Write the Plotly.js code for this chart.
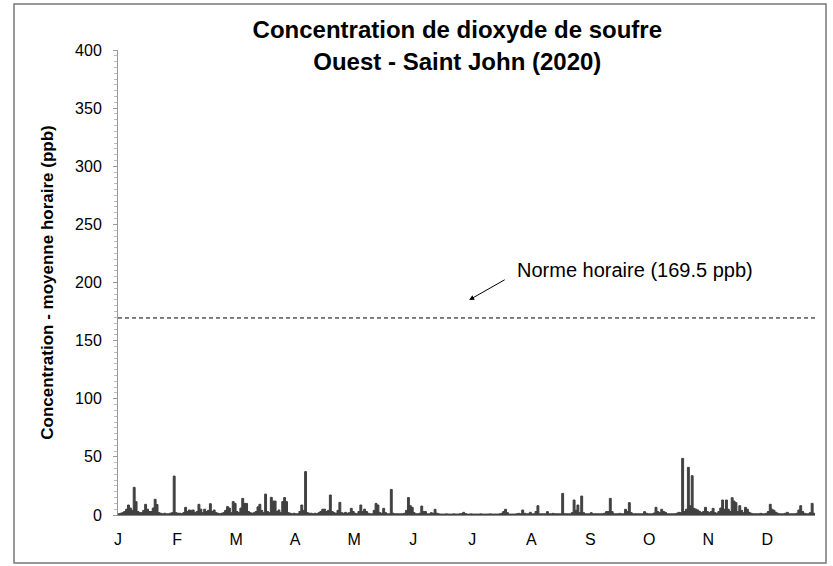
<!DOCTYPE html>
<html>
<head>
<meta charset="utf-8">
<script src="https://cdn.plot.ly/plotly-3.0.1.min.js"></script>
<style>
  html, body { margin: 0; padding: 0; background: #fff; }
  #chart { width: 833px; height: 566px; }
</style>
</head>
<body>
<div id="chart"></div>
<script>
// Daily maximum of hourly SO2 concentration (ppb), 2020 (366 days)
const janValues = [1,1.5,2,3,5,8.6,6,4,23.8,11.5,3,2,2,4,9.2,5,3,3,6,13.5,9,2,1.5,1,1.5,1,1,1.5,2,33.5,2];
const febValues = [1.5,1.5,1,2,6.6,3,4.3,4,4.3,2,3,9.2,5,2,5,3,4,9.7,3,4.3,2,1.5,1,1.5,2,4,7.2,6,2];
const marValues = [11.5,10,3,2,6,14.3,10,10,3,2,1.5,2,3,7,9.2,4,2,18,3,2,15.2,12,12,3,4.3,2,11.5,15,11.5,2,1.5];
const aprValues = [1,1.5,1,1,3,8.6,4,37.3,2,1.5,1.5,1,1.5,1,2,3,5,5,3,4,17.2,3,2,1.5,4,10.9,2,1.5,2.3,1.5];
const mayValues = [2,5.7,3,1.5,1,3,8.6,3,5,3,1.5,1,1,4,10,8.6,2,1.5,5.7,2,1,1,22,1.5,1,1,1,1,1,1.5,4];
const junValues = [15,8,6.6,2,1,1,1.5,7.7,3,2.9,1,1,2,1.5,4.9,1.5,1,0.8,0.8,0.8,1,0.8,0.8,0.8,1,0.8,0.8,1,1.2,2.3];
const julValues = [1.2,0.8,0.8,1,0.8,0.8,0.8,0.8,1,0.8,0.8,0.8,0.8,1,0.8,0.8,0.8,0.8,1,1.5,3,4.9,2,0.8,0.8,0.8,0.8,1,1.4,1,4.3];
const augValues = [1.5,1,1,2.3,1,1,3,8,1,1,1,1,2.9,1,1,1.4,1,1,1,1,18.6,1.1,1,1,1,2,12.9,4,8.6,2,16.3];
const sepValues = [2,1,1,1,2,1,1,1,1,1,1,1.5,2.9,3,14.3,2.9,1,1,1,1.4,1,1,4.9,3,10.6,2,1,1,1,1];
const octValues = [1,1,2.9,1.5,1,1,1,1.7,6.6,3,2,4.9,3,2.3,1,1,1,1,1,1.5,2.3,2,48.7,3,5,41,8,33.8,5.7,5,4.3];
const novValues = [3,2,3,6.6,3,2,3,5.7,2,1.5,3,6,12.9,5,12.9,5,3,14.9,12,10.6,3,8,4,2,6.6,5,2.3,1.5,1,1];
const decValues = [1,1,1.4,1,1,1.5,3,9.2,4.9,4,2.3,1.5,1,1,1,1.5,2.3,1,1,1,1,1.5,4.3,8,3,1.5,1,1,2,10,1.4];

// Tick labels every 31 days (category-axis label interval)
const tickLabels = ['J','F','M','A','M','J','J','A','S','O','N','D'];
const labelInterval = 31;
const hourlyStandard = 169.5;
const standardLabel = 'Norme horaire (169.5 ppb)';

const values = [].concat(janValues, febValues, marValues, aprValues, mayValues, junValues,
                         julValues, augValues, sepValues, octValues, novValues, decValues);
const days = values.map((v, i) => i + 0.5);
const tickVals = tickLabels.map((t, i) => i * labelInterval);

const font = 'Liberation Sans, Arial, sans-serif';

const traces = [{
  type: 'bar',
  x: days,
  y: values,
  width: 1,
  marker: { color: '#404040', line: { width: 1, color: '#404040' } },
  hoverinfo: 'x+y'
}, {
  type: 'scatter',
  mode: 'lines',
  x: [0, values.length],
  y: [hourlyStandard, hourlyStandard],
  line: { color: '#000', width: 1, dash: '4px,3px' },
  hoverinfo: 'y'
}];

const layout = {
  width: 833,
  height: 566,
  margin: { l: 118, r: 18, t: 50, b: 51 },
  paper_bgcolor: '#fff',
  plot_bgcolor: '#fff',
  showlegend: false,
  bargap: 0,
  font: { family: font, color: '#000', size: 16 },
  title: {
    text: '<b>Concentration de dioxyde de soufre<br>Ouest - Saint John (2020)</b>',
    font: { family: font, size: 24, color: '#000' },
    x: 0.549, xanchor: 'center', xref: 'container',
    y: 0.932, yanchor: 'middle', yref: 'container'
  },
  xaxis: {
    range: [0, values.length],
    tickmode: 'array',
    tickvals: tickVals,
    ticktext: tickLabels,
    ticks: '',
    ticklabelstandoff: 10,
    showgrid: false,
    zeroline: false,
    showline: true,
    linecolor: '#888',
    linewidth: 1,
    tickfont: { family: font, size: 16, color: '#000' },
    fixedrange: true
  },
  yaxis: {
    range: [0, 400],
    tickmode: 'linear',
    tick0: 0,
    dtick: 50,
    ticks: 'outside',
    ticklen: 4,
    tickcolor: '#999',
    ticklabelstandoff: 8,
    minor: { dtick: 5, ticks: 'outside', ticklen: 3, tickcolor: '#bbb', showgrid: false },
    showgrid: false,
    zeroline: false,
    showline: true,
    linecolor: '#999',
    linewidth: 1,
    tickfont: { family: font, size: 16, color: '#000' },
    title: {
      text: '<b>Concentration - moyenne horaire (ppb)</b>',
      font: { family: font, size: 17, color: '#000' },
      standoff: 17
    },
    fixedrange: true
  },
  annotations: [{
    x: 184.4, y: 185, xref: 'x', yref: 'y',
    ax: 37, ay: -21,
    showarrow: true, arrowhead: 2, arrowsize: 1, arrowwidth: 1, arrowcolor: '#000',
    text: ''
  }, {
    x: 208.5, y: 210.8, xref: 'x', yref: 'y',
    xanchor: 'left', yanchor: 'middle',
    showarrow: false,
    text: standardLabel,
    font: { family: font, size: 20, color: '#000' }
  }],
  shapes: [{
    type: 'rect', xref: 'paper', yref: 'paper',
    x0: -0.1492, x1: 1.0158, y0: -0.103, y1: 1.099,
    line: { color: '#777', width: 1.5 },
    fillcolor: 'rgba(0,0,0,0)',
    layer: 'below'
  }]
};

Plotly.newPlot('chart', traces, layout, { displayModeBar: false, staticPlot: true });
</script>
</body>
</html>
